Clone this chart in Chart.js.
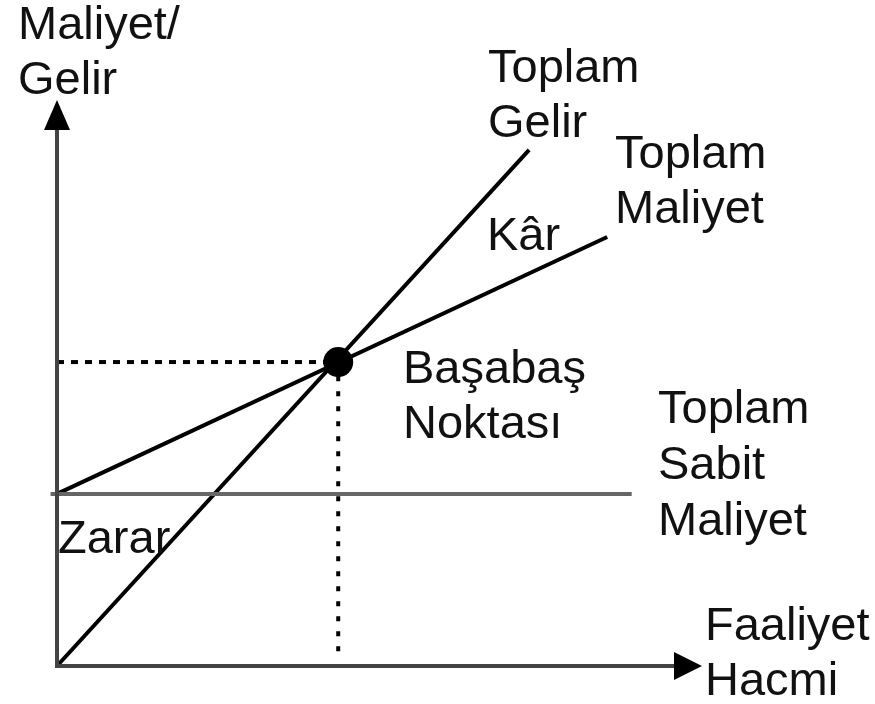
<!DOCTYPE html>
<html>
<head>
<meta charset="utf-8">
<script src="https://cdn.jsdelivr.net/npm/chart.js@4.4.0/dist/chart.umd.min.js"></script>
<style>
  html, body { margin: 0; padding: 0; background: #ffffff; }
  #wrap { width: 875px; height: 704px; }
</style>
</head>
<body>
<div id="wrap"><canvas id="c" width="875" height="704"></canvas></div>
<script>
// ---- Data (abstract units: activity volume 0..100, cost/revenue 0..100) ----
const revenueX = [0, 73.2];
const revenueY = [0, 91.2];
const totalCostX = [0, 85.3];
const totalCostY = [30.4, 75.8];
const fixedCostX = [-1, 89.1];
const fixedCostY = [30.4, 30.4];
const breakEvenX = [43.6];
const breakEvenY = [53.7];
const axisMax = [100, 100];

// Labels (text only)
const yAxisTitle = ['Maliyet/', 'Gelir'];
const xAxisTitle = ['Faaliyet', 'Hacmi'];
const revenueLabel = ['Toplam', 'Gelir'];
const totalCostLabel = ['Toplam', 'Maliyet'];
const fixedCostLabel = ['Toplam', 'Sabit', 'Maliyet'];
const breakEvenLabel = ['Başabaş', 'Noktası'];
const profitLabel = ['Kâr'];
const lossLabel = ['Zarar'];

const pts = (xs, ys) => xs.map((x, i) => ({ x: x, y: ys[i] }));

const FONT = '47px "Liberation Sans", Arial, sans-serif';
const LH = 55;

// label placement in pixels (left, first baseline)
const labelSpecs = [
  { lines: yAxisTitle, x: 18, y: 39 },
  { lines: revenueLabel, x: 488, y: 82 },
  { lines: totalCostLabel, x: 615, y: 168 },
  { lines: profitLabel, x: 487, y: 250 },
  { lines: breakEvenLabel, x: 403, y: 383 },
  { lines: fixedCostLabel, x: 658, y: 423, lh: 56 },
  { lines: lossLabel, x: 58, y: 553 },
  { lines: xAxisTitle, x: 705, y: 640 }
];

const decorPlugin = {
  id: 'decor',
  beforeDraw(chart) {
    const ctx = chart.ctx;
    ctx.save();
    ctx.fillStyle = '#ffffff';
    ctx.fillRect(0, 0, chart.width, chart.height);
    ctx.restore();
  },
  afterDatasetsDraw(chart) {
    const ctx = chart.ctx;
    const xs = chart.scales.x, ys = chart.scales.y;
    const x0 = xs.getPixelForValue(0), y0 = ys.getPixelForValue(0);
    const xt = xs.getPixelForValue(axisMax[0]);
    const yt = ys.getPixelForValue(axisMax[1]);
    ctx.save();
    ctx.fillStyle = '#000000';
    // y arrow
    ctx.beginPath();
    ctx.moveTo(x0, yt);
    ctx.lineTo(x0 - 13, yt + 30);
    ctx.lineTo(x0 + 13, yt + 30);
    ctx.closePath();
    ctx.fill();
    // x arrow
    ctx.beginPath();
    ctx.moveTo(xt, y0);
    ctx.lineTo(xt - 28, y0 - 14);
    ctx.lineTo(xt - 28, y0 + 14);
    ctx.closePath();
    ctx.fill();
    // text
    ctx.font = FONT;
    ctx.fillStyle = '#111111';
    ctx.textBaseline = 'alphabetic';
    ctx.textAlign = 'left';
    labelSpecs.forEach(s => {
      const lh = s.lh || LH;
      s.lines.forEach((t, i) => ctx.fillText(t, s.x, s.y + i * lh));
    });
    ctx.restore();
  }
};

const base = { showLine: true, pointRadius: 0, pointHoverRadius: 0, clip: false, fill: false, tension: 0 };

new Chart(document.getElementById('c'), {
  type: 'scatter',
  data: {
    datasets: [
      Object.assign({}, base, { label: 'yAxis', data: [{x: 0, y: -0.3}, {x: 0, y: axisMax[1] - 4}], borderColor: '#444444', borderWidth: 4 }),
      Object.assign({}, base, { label: 'xAxis', data: [{x: -0.3, y: 0}, {x: axisMax[0] - 3.5}].map(p => ({x: p.x, y: 0})), borderColor: '#444444', borderWidth: 4 }),
      Object.assign({}, base, { label: 'dotH', data: [{x: 0, y: breakEvenY[0]}, {x: breakEvenX[0], y: breakEvenY[0]}], borderColor: '#000000', borderWidth: 4, borderDash: [7, 7] }),
      Object.assign({}, base, { label: 'dotV', data: [{x: breakEvenX[0], y: breakEvenY[0] - 2.5}, {x: breakEvenX[0], y: 1.5}], borderColor: '#000000', borderWidth: 4, borderDash: [5, 10] }),
      Object.assign({}, base, { label: 'Toplam Sabit Maliyet', data: pts(fixedCostX, fixedCostY), borderColor: '#666666', borderWidth: 4 }),
      Object.assign({}, base, { label: 'Toplam Gelir', data: pts(revenueX, revenueY), borderColor: '#000000', borderWidth: 4 }),
      Object.assign({}, base, { label: 'Toplam Maliyet', data: pts(totalCostX, totalCostY), borderColor: '#000000', borderWidth: 4 }),
      { label: 'Başabaş Noktası', data: pts(breakEvenX, breakEvenY), showLine: false, pointRadius: 15, pointHoverRadius: 15,
        pointBackgroundColor: '#000000', pointBorderColor: '#000000', pointBorderWidth: 0, clip: false }
    ]
  },
  options: {
    responsive: false,
    animation: false,
    events: [],
    layout: { padding: { left: 57, right: 875 - 702, top: 100, bottom: 704 - 666 } },
    plugins: { legend: { display: false }, tooltip: { enabled: false }, title: { display: false } },
    scales: {
      x: { type: 'linear', min: 0, max: axisMax[0], display: false },
      y: { type: 'linear', min: 0, max: axisMax[1], display: false }
    }
  },
  plugins: [decorPlugin]
});
</script>
</body>
</html>
